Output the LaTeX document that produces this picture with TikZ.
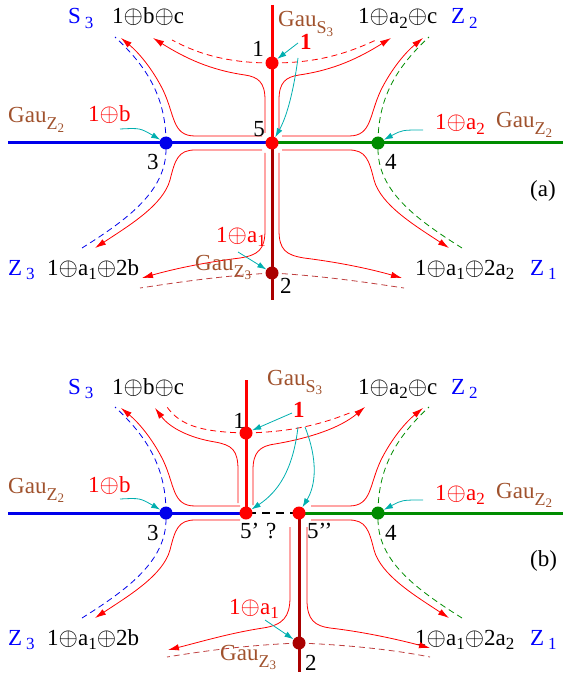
\documentclass[tikz,border=0pt]{standalone}
\usepackage{fontspec}
\setmainfont{Liberation Serif}
\usetikzlibrary{arrows.meta}
\definecolor{gaubrown}{RGB}{160,82,45}
\definecolor{darkred}{RGB}{170,0,0}
\definecolor{linegreen}{RGB}{0,140,0}
\definecolor{lineblue}{RGB}{0,0,235}
\definecolor{hintcyan}{RGB}{0,175,175}
\newcommand{\op}{$\oplus$}
\newcommand{\subix}[1]{\raisebox{-4.5pt}{\fontsize{17}{17}\selectfont#1}}
\newcommand{\gauof}[2]{Gau\raisebox{-7pt}{\fontsize{18}{18}\selectfont#1\raisebox{-2.5pt}{\fontsize{13}{13}\selectfont#2}}}
\begin{document}
\begin{tikzpicture}[x=1pt,y=-1pt,
  every node/.style={inner sep=0pt,font=\fontsize{23}{25}\selectfont},
  dot/.style={circle,fill=#1,minimum size=13pt,inner sep=0pt},
  axis/.style={line width=3pt,#1},
  flow/.style={red,line width=.8pt},
  flowto/.style={flow,-{Latex[length=11pt,width=6.5pt]}},
  trace/.style={#1,line width=.8pt,dash pattern=on 6pt off 4pt},
  hint/.style={hintcyan,line width=.8pt,-{Latex[length=9pt,width=6pt]}},
  gau/.style={text=gaubrown}]
\useasboundingbox (0,0) rectangle (566,679);
% points on the axes
\foreach \n/\x/\y in {1a/272/63,5a/272/143,2a/272/273,
  1b/246/433,5pb/246/513,5ppb/299/513,2b/299/643}
  \coordinate (p\n) at (\x,\y);
\coordinate (topa) at (272,5);  \coordinate (bota) at (272,300);
\coordinate (topb) at (246,380); \coordinate (botb) at (299,672);
% axes (a)
\draw[axis=lineblue] (8,143) -- (p5a);
\draw[axis=linegreen] (p5a) -- (563,143);
\draw[axis=red] (topa) -- (p5a);
\draw[axis=darkred] (p5a) -- (bota);
% axes (b)
\draw[axis=lineblue] (8,513) -- (p5pb);
\draw[axis=linegreen] (p5ppb) -- (563,513);
\draw[axis=red] (topb) -- (p5pb);
\draw[axis=darkred] (p5ppb) -- (botb);
\draw[line width=2pt,dash pattern=on 8pt off 6pt,dash phase=-2pt] (p5pb) -- (p5ppb);

% the same in both panels
\foreach \dy/\p/\xl/\xr in {0/a/262/282,370/b/240/311}{
\begin{scope}[shift={(0,\dy)}]
  \draw[trace=lineblue] (166,143) .. controls (166,95) and (145,65) .. (115,37);
  \draw[trace=lineblue] (166,149) .. controls (166,190) and (130,218) .. (82,248);
  \draw[trace=linegreen] (378,143) .. controls (378,95) and (399,65) .. (429,37);
  \draw[trace=linegreen] (378,149) .. controls (378,190) and (414,218) .. (462,248);
  \draw[flowto] (\xl,136) -- (195,136) .. controls (172,136) and (175,115) .. (163,90) .. controls (152,68) and (138,52) .. (121,38);
  \draw[flowto] (\xr,136) -- (349,136) .. controls (372,136) and (369,115) .. (381,90) .. controls (392,68) and (406,52) .. (423,38);
  \draw[flowto] (\xl,150) -- (195,150) .. controls (178,150) and (175,160) .. (170,180) .. controls (163,205) and (130,225) .. (95,248);
  \draw[flowto] (\xr,150) -- (349,150) .. controls (366,150) and (369,160) .. (374,180) .. controls (381,205) and (414,225) .. (449,248);
  \node[dot=lineblue] (d3\p) at (166,143) {};
  \node[dot=linegreen] (d4\p) at (378,143) {};
  \node[anchor=base west,text=blue] (s3\p) at (68,24) {S\,\subix{3}};
  \node[anchor=base west] (t1\p) at (112,24) {1\op b\op c};
  \node[anchor=base west] (t2\p) at (358,24) {1\op a\subix{2}\op c};
  \node[anchor=base west,text=blue] (z2\p) at (451,24) {Z\,\subix{2}};
  \node[anchor=base west,gau] (gl\p) at (8,123) {\gauof{Z}{2}};
  \node[anchor=base west,text=red] (ob\p) at (88,122) {1\op b};
  \node[anchor=base west,text=red] (oa\p) at (435,130) {1\op a\subix{2}};
  \node[anchor=base west,gau] (gr\p) at (496,128) {\gauof{Z}{2}};
  \node[anchor=base west] (n3\p) at (147,170) {3};
  \node[anchor=base west] (n4\p) at (385,170) {4};
  \node[anchor=base west,text=blue] (z3\p) at (8,275) {Z\,\subix{3}};
  \node[anchor=base west] (t3\p) at (47,275) {1\op a\subix{1}\op 2b};
  \node[anchor=base west] (t4\p) at (415,275) {1\op a\subix{1}\op 2a\subix{2}};
  \node[anchor=base west,text=blue] (z1\p) at (530,275) {Z\,\subix{1}};
  \node[anchor=base west] (tag\p) at (530,196) {(\p)};
  \draw[hint] (120,129) .. controls (140,128) .. (d3\p);
  \draw[hint] (423,130) .. controls (402,130) .. (d4\p);
\end{scope}}

% panel (a), centre
\draw[flowto] (265,133) -- (265,100) .. controls (265,82) and (258,77) .. (245,75) .. controls (210,70) and (185,58) .. (153,38);
\draw[flowto] (279,133) -- (279,100) .. controls (279,82) and (286,77) .. (299,75) .. controls (334,70) and (359,58) .. (391,38);
\draw[trace=red] (p1a) .. controls (230,63) and (200,55) .. (172,40);
\draw[trace=red] (p1a) .. controls (314,63) and (344,55) .. (376,40);
\draw[flowto] (265,153) -- (265,230) .. controls (265,250) and (258,255) .. (240,258) .. controls (200,263) and (170,270) .. (142,278);
\draw[flowto] (279,153) -- (279,230) .. controls (279,250) and (286,255) .. (304,258) .. controls (344,263) and (374,270) .. (402,278);
\draw[trace=darkred!75] (p2a) .. controls (220,276) and (180,282) .. (140,288);
\draw[trace=darkred!75] (p2a) .. controls (324,276) and (364,282) .. (404,288);
\node[dot=red] (d1a) at (p1a) {};
\node[dot=red] (d5a) at (p5a) {};
\node[dot=darkred] (d2a) at (p2a) {};
\node[anchor=base east] (n1a) at (264,57) {1};
\node[anchor=base east] (n5a) at (265,137) {5};
\node[anchor=base west] (n2a) at (280,293) {2};
\node[anchor=base west,gau] (gs3a) at (278,27) {\gauof{S}{3}};
\node[anchor=base west,text=red,font=\fontsize{23}{25}\selectfont\bfseries] (onea) at (300,50) {1};
\node[anchor=base east,text=red] (oa1a) at (266,242) {1\op a\subix{1}};
\node[anchor=base west,gau] (gz3a) at (195,270) {\gauof{Z}{3}};
\draw[hint] (298,43) -- (d1a);
\draw[hint] (298,58) .. controls (293,95) and (286,118) .. (d5a);
\draw[hint] (238,252) -- (d2a);

% panel (b), centre
\draw[flowto] (238,503) -- (238,470) .. controls (238,450) and (232,445) .. (215,442) .. controls (190,438) and (170,428) .. (155,408);
\draw[trace=red] (p1b) .. controls (200,432) and (180,425) .. (167,407);
\draw[flowto] (253,505) -- (253,470) .. controls (253,452) and (260,446) .. (275,444) .. controls (310,438) and (340,428) .. (365,407);
\draw[trace=red] (p1b) .. controls (290,432) and (320,425) .. (352,412);
\draw[flowto] (290,527) -- (290,597) .. controls (290,617) and (283,625) .. (263,628) .. controls (230,633) and (200,642) .. (168,650);
\draw[trace=darkred!75] (p2b) .. controls (250,645) and (210,650) .. (167,657);
\draw[flowto] (307,527) -- (307,600) .. controls (307,620) and (315,626) .. (330,628) .. controls (365,632) and (400,640) .. (430,648);
\draw[trace=darkred!75] (p2b) .. controls (350,645) and (395,650) .. (430,657);
\node[dot=red] (d1b) at (p1b) {};
\node[dot=red] (d5pb) at (p5pb) {};
\node[dot=red] (d5ppb) at (p5ppb) {};
\node[dot=darkred] (d2b) at (p2b) {};
\node[anchor=base east] (n1b) at (245,428) {1};
\node[anchor=base west] (n5pb) at (240,538) {5’};
\node[anchor=base west] (qb) at (266,538) {?};
\node[anchor=base west] (n5ppb) at (307,538) {5’’};
\node[anchor=base west] (n2b) at (305,670) {2};
\node[anchor=base west,gau] (gs3b) at (267,385) {\gauof{S}{3}};
\node[anchor=base west,text=red,font=\fontsize{23}{25}\selectfont\bfseries] (oneb) at (293,417) {1};
\node[anchor=base east,text=red] (oa1b) at (279,614) {1\op a\subix{1}};
\node[anchor=base west,gau] (gz3b) at (220,660) {\gauof{Z}{3}};
\draw[hint] (292,413) -- (d1b);
\draw[hint] (298,427) .. controls (293,470) and (278,492) .. (d5pb);
\draw[hint] (305,427) .. controls (318,460) and (316,485) .. (d5ppb);
\draw[hint] (265,620) -- (d2b);
\end{tikzpicture}
\end{document}
